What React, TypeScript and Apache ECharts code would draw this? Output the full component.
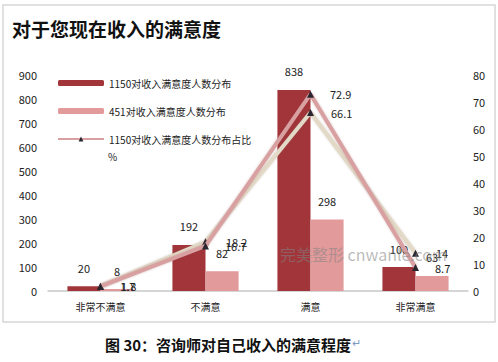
import React, { useEffect, useRef } from "react";
import * as echarts from "echarts";

const categories = ["非常不满意", "不满意", "满意", "非常满意"];
const count1150 = [20, 192, 838, 100];
const count451 = [8, 82, 298, 63];
const pct1150 = [1.7, 16.7, 72.9, 8.7];
const pct451 = [1.8, 18.2, 66.1, 14];
const leftTicks = [0, 900, 100];
const rightTicks = [0, 80, 10];

const S1 = "1150对收入满意度人数分布";
const S2 = "451对收入满意度人数分布";
const S3 = "1150对收入满意度人数分布占比%";
const S4 = "451对收入满意度人数分布占比%";

const FONT = "'Noto Sans CJK SC', 'Noto Sans', sans-serif";

export default function App() {
  const ref = useRef<HTMLDivElement>(null);
  useEffect(() => {
    if (!ref.current) return;
    const chart = echarts.init(ref.current, undefined, { renderer: "svg" });
    const labelStyle = { color: "#222", fontSize: 11, fontFamily: FONT };
    chart.setOption({
      animation: false,
      backgroundColor: "#fff",
      textStyle: { fontFamily: FONT },
      grid: { left: 48, right: 30, top: 75, bottom: 71 },
      legend: {
        orient: "vertical",
        left: 52,
        top: 73,
        itemWidth: 46,
        itemHeight: 6,
        itemGap: 18,
        data: [S1, S2, S3],
        textStyle: { fontSize: 10, color: "#222", fontFamily: FONT },
        formatter: (n: string) => (n === S3 ? "1150对收入满意度人数分布占比" : n),
      },
      xAxis: {
        type: "category",
        data: categories,
        axisLine: { lineStyle: { color: "#c8c8c8", width: 1.5 } },
        axisTick: { show: false },
        axisLabel: { color: "#222", fontSize: 10, margin: 10, fontFamily: FONT },
      },
      yAxis: [
        {
          type: "value",
          min: leftTicks[0],
          max: leftTicks[1],
          interval: leftTicks[2],
          splitLine: { show: false },
          axisLine: { show: false },
          axisTick: { show: false },
          axisLabel: { color: "#222", fontSize: 11, margin: 11 },
        },
        {
          type: "value",
          min: rightTicks[0],
          max: rightTicks[1],
          interval: rightTicks[2],
          splitLine: { show: false },
          axisLine: { show: false },
          axisTick: { show: false },
          axisLabel: { color: "#222", fontSize: 11, margin: 5 },
        },
      ],
      series: [
        {
          name: S1,
          type: "bar",
          data: count1150,
          barGap: "0%",
          barCategoryGap: "37%",
          itemStyle: { color: "#a1353a" },
          label: { show: true, position: "top", distance: 13, ...labelStyle },
        },
        {
          name: S2,
          type: "bar",
          data: count451,
          itemStyle: { color: "#e29a9b" },
          label: { show: true, position: "top", distance: 13, ...labelStyle },
        },
        {
          name: S4,
          type: "line",
          yAxisIndex: 1,
          data: pct451,
          z: 3,
          symbol: "triangle",
          symbolSize: 7,
          itemStyle: { color: "#2a2630" },
          lineStyle: { color: "#e2d9c6", width: 4, shadowColor: "rgba(120,100,80,0.35)", shadowBlur: 2 },
          label: { show: true, position: "right", distance: 17, ...labelStyle },
        },
        {
          name: S3,
          type: "line",
          yAxisIndex: 1,
          data: pct1150,
          z: 4,
          symbol: "triangle",
          symbolSize: 7,
          itemStyle: { color: "#2a2630" },
          lineStyle: { color: "#d8a0a0", width: 4, shadowColor: "rgba(140,60,60,0.35)", shadowBlur: 2 },
          label: { show: true, position: "right", distance: 16, ...labelStyle },
        },
      ],
      graphic: [
        {
          type: "rect",
          shape: { x: 3, y: 5, width: 492, height: 317 },
          style: { fill: "none", stroke: "#d6d6d6", lineWidth: 1.5 },
          silent: true,
        },
        {
          type: "text",
          left: 12,
          top: 19,
          style: { text: "对于您现在收入的满意度", font: `bold 19px ${FONT}`, fill: "#111" },
        },
        {
          type: "text",
          left: 108,
          top: 151,
          style: { text: "%", font: `10px ${FONT}`, fill: "#222" },
        },
        {
          type: "text",
          left: 280,
          top: 246,
          z: 10,
          style: { text: "完美整形 cnwanle.com", font: `16px ${FONT}`, fill: "rgba(130,130,130,0.55)" },
        },
        {
          type: "text",
          left: 105,
          top: 337,
          style: {
            text: "图 30：咨询师对自己收入的满意程度",
            font: `bold 15px 'Noto Sans CJK SC', serif`,
            fill: "#111",
          },
        },
        {
          type: "text",
          left: 352,
          top: 336,
          style: { text: "↵", font: `11px ${FONT}`, fill: "#7d9cc4" },
        },
      ],
    });
    return () => chart.dispose();
  }, []);
  return (
    <div
      ref={ref}
      style={{ position: "fixed", left: 0, top: 0, width: 498, height: 362 }}
    />
  );
}
